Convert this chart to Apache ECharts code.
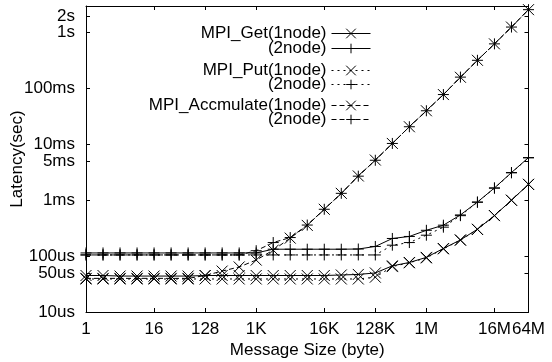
<!DOCTYPE html>
<html>
<head>
<meta charset="utf-8">
<script src="https://cdn.jsdelivr.net/npm/echarts@6/dist/echarts.min.js"></script>
<style>html,body{margin:0;padding:0;background:#fff}#c{width:552px;height:362px}</style>
</head>
<body>
<div id="c"></div>
<script>
// Message sizes (bytes)
const sizes = [1,2,4,8,16,32,64,128,256,512,1024,2048,4096,8192,16384,32768,65536,131072,262144,524288,1048576,2097152,4194304,8388608,16777216,33554432,67108864];

// Latency (seconds)
const getOne = [4.5e-5,4.5e-5,4.4e-5,4.4e-5,4.4e-5,4.4e-5,4.4e-5,4.5e-5,4.5e-5,4.5e-5,4.5e-5,4.5e-5,4.5e-5,4.5e-5,4.5e-5,4.6e-5,4.7e-5,5.0e-5,6.7e-5,7.7e-5,9.5e-5,1.37e-4,1.95e-4,3.03e-4,5.33e-4,1.0e-3,1.93e-3];
const getTwo = [1.14e-4,1.14e-4,1.14e-4,1.14e-4,1.14e-4,1.14e-4,1.14e-4,1.14e-4,1.14e-4,1.14e-4,1.14e-4,1.33e-4,1.33e-4,1.33e-4,1.33e-4,1.33e-4,1.34e-4,1.49e-4,2.07e-4,2.25e-4,2.9e-4,3.58e-4,5.46e-4,9.3e-4,1.66e-3,3.13e-3,5.8e-3];
const putOne = [3.9e-5,3.9e-5,3.9e-5,3.9e-5,3.9e-5,3.9e-5,3.9e-5,3.9e-5,3.9e-5,3.9e-5,3.9e-5,3.9e-5,3.9e-5,3.9e-5,3.9e-5,3.9e-5,3.9e-5,4.2e-5,6.5e-5,7.6e-5,9.3e-5,1.35e-4,1.93e-4,3.0e-4,5.3e-4,1.0e-3,1.92e-3];
const putTwo = [1.05e-4,1.05e-4,1.05e-4,1.05e-4,1.05e-4,1.05e-4,1.05e-4,1.05e-4,1.05e-4,1.05e-4,1.05e-4,1.05e-4,1.05e-4,1.05e-4,1.05e-4,1.05e-4,1.05e-4,1.05e-4,1.57e-4,1.75e-4,2.37e-4,3.3e-4,5.3e-4,9.2e-4,1.65e-3,3.1e-3,5.75e-3];
const accOne = [4.0e-5,4.0e-5,4.0e-5,4.0e-5,4.0e-5,4.0e-5,4.0e-5,4.5e-5,5.4e-5,6.4e-5,8.5e-5,1.28e-4,2.1e-4,3.55e-4,6.9e-4,1.33e-3,2.72e-3,5.25e-3,1.04e-2,2.07e-2,4.0e-2,7.8e-2,0.159,0.32,0.63,1.26,2.58];
const accTwo = [1.05e-4,1.05e-4,1.05e-4,1.05e-4,1.05e-4,1.05e-4,1.05e-4,1.05e-4,1.05e-4,1.05e-4,1.25e-4,1.75e-4,2.15e-4,3.6e-4,6.9e-4,1.33e-3,2.7e-3,5.2e-3,1.04e-2,2.07e-2,4.0e-2,7.8e-2,0.16,0.32,0.63,1.26,2.58];

// Tick labels
const xTickValues = [1,16,128,1024,16384,131072,1048576,16777216,67108864];
const xTickLabels = ['1','16','128','1K','16K','128K','1M','16M','64M'];
const yTickValues = [1e-5,5e-5,1e-4,1e-3,5e-3,1e-2,0.1,1,2];
const yTickLabels = ['10us','50us','100us','1ms','5ms','10ms','100ms','1s','2s'];

const seriesNames = ['MPI_Get(1node)','MPI_Get(2node)','MPI_Put(1node)','MPI_Put(2node)','MPI_Accmulate(1node)','MPI_Accmulate(2node)'];
const seriesData = [getOne,getTwo,putOne,putTwo,accOne,accTwo];

const FONT = 'Liberation Sans, Arial, Helvetica, sans-serif';
const FS = 17;
const X_SYM = 'path://M0,0L10,10M10,0L0,10';
const P_SYM = 'path://M5,0L5,10M0,5L10,5';
const lineTypes = ['solid','solid',[2,4],[2,4],[5,3],[5,3]];
const symbols = [X_SYM,P_SYM,X_SYM,P_SYM,X_SYM,P_SYM];

function xLabel(v){ const i = xTickValues.findIndex(t => Math.abs(t - v) / t < 1e-6); return i >= 0 ? xTickLabels[i] : ''; }
function yLabel(v){ const i = yTickValues.findIndex(t => Math.abs(t - v) / t < 1e-6); return i >= 0 ? yTickLabels[i] : ''; }

const series = seriesNames.map((n, k) => ({
  name: n,
  type: 'line',
  data: sizes.map((s, i) => [s, seriesData[k][i]]),
  symbol: symbols[k],
  symbolSize: 11,
  showAllSymbol: true,
  lineStyle: { color: '#000', width: 1, type: lineTypes[k] },
  itemStyle: { color: '#000', borderColor: '#000', borderWidth: 1 },
  emphasis: { disabled: true },
  animation: false,
  z: 3
}));

const legendTops = [33, 48, 70, 84, 105, 119];
const legends = seriesNames.map((n, k) => ({
  data: [n],
  orient: 'vertical',
  align: 'right',
  right: 181,
  top: legendTops[k] - 8,
  padding: 0,
  itemWidth: 39,
  itemHeight: 12,
  selectedMode: false,
  lineStyle: { width: 1 },
  itemStyle: { borderWidth: 1 },
  textStyle: { fontFamily: FONT, fontSize: FS, color: '#000' },
  formatter: (name) => k % 2 === 1 ? '(2node)' : name
}));

const xCommon = {
  type: 'log', logBase: 2, min: 1, max: 67108864,
  axisLine: { show: true, lineStyle: { color: '#000', width: 1 } },
  splitLine: { show: false }, minorTick: { show: false }
};
const yCommon = {
  type: 'log', logBase: 10, min: 1e-5, max: 3,
  axisLine: { show: true, lineStyle: { color: '#000', width: 1 } },
  splitLine: { show: false }, minorTick: { show: false }
};

const option = {
  backgroundColor: '#fff',
  animation: false,
  grid: { left: 86, right: 23.5, top: 6, bottom: 50, containLabel: false, outerBoundsMode: 'none' },
  legend: legends,
  xAxis: [
    Object.assign({}, xCommon, {
      position: 'bottom',
      name: 'Message Size (byte)', nameLocation: 'middle', nameGap: 30, nameMoveOverlap: false,
      nameTextStyle: { fontFamily: FONT, fontSize: FS, color: '#000' },
      axisTick: { show: true, inside: true, length: 4, customValues: xTickValues, lineStyle: { color: '#000' } },
      axisLabel: { show: true, customValues: xTickValues, formatter: xLabel, margin: 9, hideOverlap: false, fontFamily: FONT, fontSize: FS, color: '#000' }
    }),
    Object.assign({}, xCommon, {
      position: 'top',
      axisTick: { show: true, inside: true, length: 4, customValues: xTickValues, lineStyle: { color: '#000' } },
      axisLabel: { show: false }
    })
  ],
  yAxis: [
    Object.assign({}, yCommon, {
      position: 'left',
      name: 'Latency(sec)', nameLocation: 'middle', nameGap: 60, nameRotate: 90, nameMoveOverlap: false,
      nameTextStyle: { fontFamily: FONT, fontSize: FS, color: '#000' },
      axisTick: { show: true, inside: true, length: 4, customValues: yTickValues, lineStyle: { color: '#000' } },
      axisLabel: { show: true, customValues: yTickValues, formatter: yLabel, margin: 11, hideOverlap: false, fontFamily: FONT, fontSize: FS, color: '#000' }
    }),
    Object.assign({}, yCommon, {
      position: 'right',
      axisTick: { show: true, inside: true, length: 4, customValues: yTickValues, lineStyle: { color: '#000' } },
      axisLabel: { show: false }
    })
  ],
  series: series
};

const chart = echarts.init(document.getElementById('c'), null, { renderer: 'canvas' });
chart.setOption(option);
</script>
</body>
</html>
